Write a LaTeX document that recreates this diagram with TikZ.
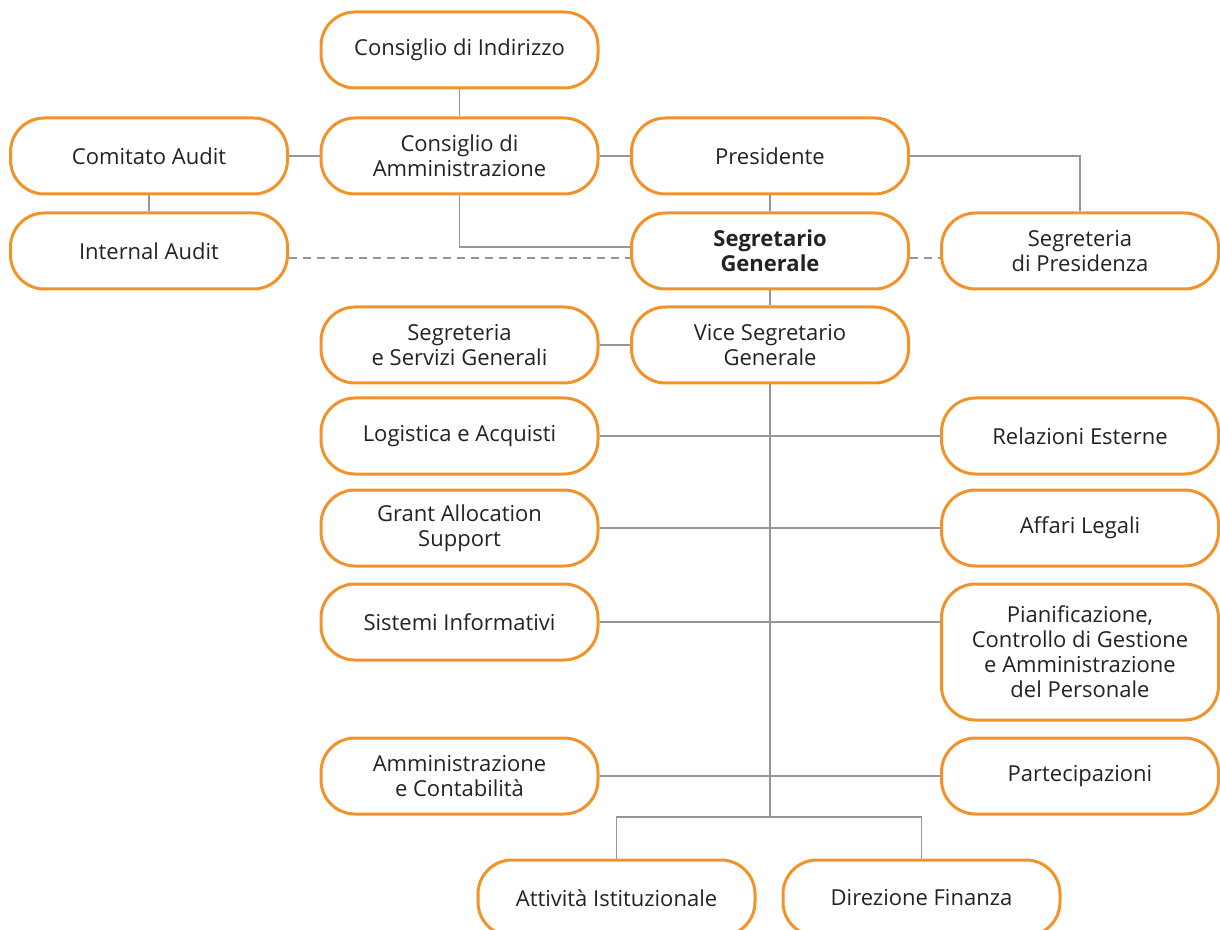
\documentclass[tikz,border=0pt]{standalone}
\usepackage{fontspec}
\setmainfont{Open Sans}
\usetikzlibrary{positioning,calc}
\definecolor{orgline}{RGB}{243,146,40}
\definecolor{linkgray}{RGB}{150,150,150}
\definecolor{txtgray}{RGB}{35,35,35}
\tikzset{unit/.style={draw=orgline, line width=1.5pt, rounded corners=17pt, fill=white, align=center, minimum width=138.5pt, minimum height=38pt, inner sep=2pt, text=txtgray, font=\fontsize{11}{12.5}\selectfont}, link/.style={draw=linkgray, line width=0.6pt}, dlink/.style={link, dash pattern=on 4pt off 3pt}}

\begin{document}
\begin{tikzpicture}[x=0.5pt, y=-0.5pt]
\useasboundingbox (0,0) rectangle (1220,930);
\node[unit] (indir) at (459.5,50) {Consiglio di Indirizzo};
\node[unit] (audit) at (149,156) {Comitato Audit};
\node[unit] (cda) at (459.5,156) {Consiglio di\\Amministrazione};
\node[unit] (pres) at (770,156) {Presidente};
\node[unit] (intaud) at (149,251) {Internal Audit};
\node[unit, font=\fontsize{11}{12.5}\selectfont\bfseries] (segen) at (770,251) {Segretario\\Generale};
\node[unit] (segpres) at (1080,251) {Segreteria\\di Presidenza};
\node[unit] (segserv) at (459.5,345) {Segreteria\\e Servizi Generali};
\node[unit] (vice) at (770,345) {Vice Segretario\\Generale};
\node[unit] (logi) at (459.5,436) {Logistica e Acquisti};
\node[unit] (relest) at (1080,436) {Relazioni Esterne};
\node[unit] (grant) at (459.5,528) {Grant Allocation\\Support};
\node[unit] (legal) at (1080,528) {Affari Legali};
\node[unit] (sist) at (459.5,622) {Sistemi Informativi};
\node[unit, minimum height=68pt] (pianif) at (1080,652) {Pianificazione,\\Controllo di Gestione\\e Amministrazione\\del Personale};
\node[unit] (amm) at (459.5,776) {Amministrazione\\e Contabilità};
\node[unit] (part) at (1080,776) {Partecipazioni};
\node[unit] (attiv) at (616.5,898) {Attività Istituzionale};
\node[unit] (fin) at (921.5,898) {Direzione Finanza};
\coordinate (fork) at (770,817);
% upper part
\draw[link] (indir) -- (cda);
\draw[link] (audit) -- (cda);
\draw[link] (cda) -- (pres);
\draw[link] (pres.east) -| (segpres.north);
\draw[link] (audit) -- (intaud);
\draw[link] (cda.south) |- ([yshift=2pt]segen.west);
\draw[dlink] ([yshift=-3.5pt]intaud.east) -- ([yshift=-3.5pt]segen.west);
\draw[dlink] ([yshift=-3.5pt]segen.east) -- ([yshift=-3.5pt]segpres.west);
\draw[link] (pres) -- (segen);
\draw[link] (segen) -- (vice);
\draw[link] (segserv) -- (vice);
% staff units
\draw[link] (vice) -- (fork);
\draw[link] (logi) -- (relest);
\draw[link] (grant) -- (legal);
\draw[link] (sist.east) -- (sist.east -| pianif.west);
\draw[link] (amm) -- (part);
\draw[link] (attiv.north) |- (fork) -| (fin.north);
\end{tikzpicture}
\end{document}
